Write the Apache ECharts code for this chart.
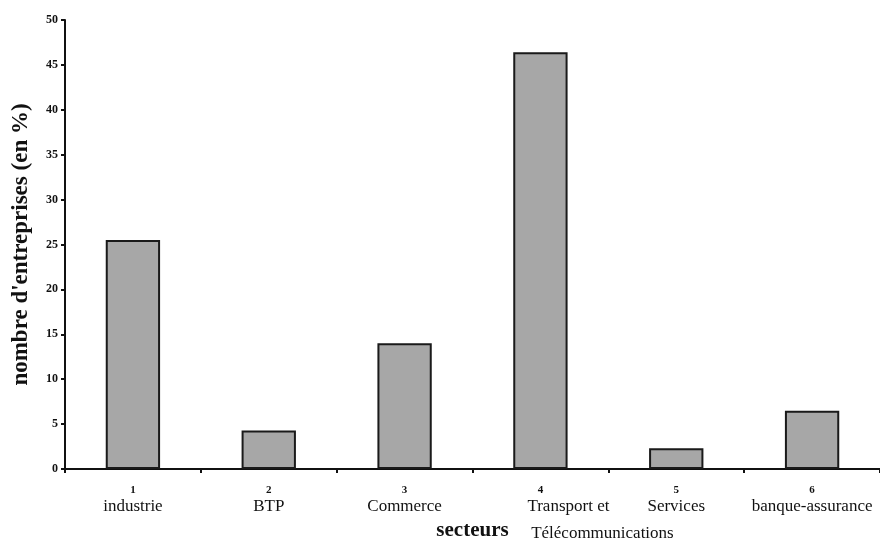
<!DOCTYPE html>
<html>
<head>
<meta charset="utf-8">
<script src="https://cdn.jsdelivr.net/npm/echarts@6/dist/echarts.min.js"></script>
<style>html,body{margin:0;padding:0;background:#fff}#c{width:880px;height:540px}</style>
</head>
<body>
<div id="c"></div>
<script>
const categoryNumbers = ["1", "2", "3", "4", "5", "6"];
const categoryNames = [["industrie"], ["BTP"], ["Commerce"], ["Transport et", "Télécommunications"], ["Services"], ["banque-assurance"]];
const values = [25.5, 4.3, 14.0, 46.4, 2.3, 6.5];
const yTicks = { min: 0, max: 50, interval: 5 };

const serif = '"Liberation Serif", "Times New Roman", serif';
const chart = echarts.init(document.getElementById('c'), null, { renderer: 'canvas' });
chart.setOption({
  backgroundColor: '#ffffff',
  animation: false,
  grid: { left: 65, right: 0, top: 20, bottom: 71, containLabel: false, outerBoundsMode: 'none' },
  xAxis: {
    type: 'category',
    data: categoryNumbers,
    name: 'secteurs',
    nameLocation: 'middle',
    nameGap: 51,
    nameMoveOverlap: false,
    nameTextStyle: { fontFamily: serif, fontWeight: 'bold', fontSize: 21, color: '#111' },
    axisLine: { lineStyle: { color: '#111', width: 2 } },
    axisTick: { show: true, length: 4, lineStyle: { color: '#111', width: 2 } },
    axisLabel: {
      interval: 0,
      margin: 14,
      color: '#111',
      hideOverlap: false,
      formatter: function (v, i) {
        const lines = categoryNames[i];
        if (lines.length > 1) {
          return '{n|' + v + '}\n{a|' + lines[0] + '}\n{b|' + lines[1] + '}';
        }
        return '{n|' + v + '}\n{t|' + lines[0] + '}';
      },
      rich: {
        n: { fontFamily: serif, fontWeight: 'bold', fontSize: 11, lineHeight: 14, color: '#111' },
        t: { fontFamily: serif, fontSize: 17, lineHeight: 20, color: '#111' },
        a: { fontFamily: serif, fontSize: 17, lineHeight: 20, color: '#111', padding: [0, 0, 0, 56] },
        b: { fontFamily: serif, fontSize: 17, lineHeight: 33, color: '#111', padding: [0, 0, 0, 124] }
      }
    }
  },
  yAxis: {
    type: 'value',
    min: yTicks.min,
    max: yTicks.max,
    interval: yTicks.interval,
    name: "nombre d'entreprises (en %)",
    nameLocation: 'middle',
    nameGap: 32,
    nameMoveOverlap: false,
    nameTextStyle: { fontFamily: serif, fontWeight: 'bold', fontSize: 23, color: '#111' },
    splitLine: { show: false },
    axisLine: { show: true, lineStyle: { color: '#111', width: 2 } },
    axisTick: { show: true, length: 4, lineStyle: { color: '#111', width: 2 } },
    axisLabel: { fontFamily: serif, fontWeight: 'bold', fontSize: 12, color: '#111', margin: 7 }
  },
  series: [{
    type: 'bar',
    data: values,
    barWidth: '40%',
    itemStyle: { color: '#a7a7a7', borderColor: '#1a1a1a', borderWidth: 2 }
  }]
});
</script>
</body>
</html>
